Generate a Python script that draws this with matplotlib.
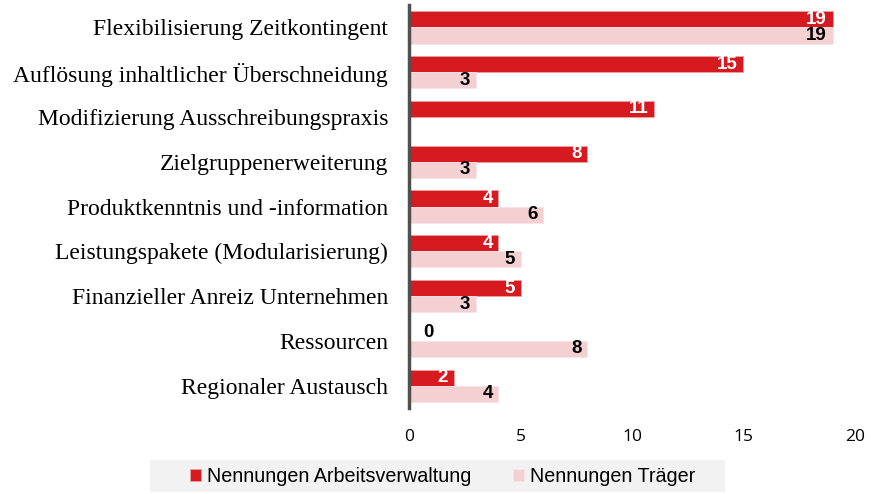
import matplotlib
matplotlib.use("Agg")
import matplotlib.pyplot as plt
from matplotlib.patches import Rectangle
import numpy as np

categories = [
    "Flexibilisierung Zeitkontingent",
    "Auflösung inhaltlicher Überschneidung",
    "Modifizierung Ausschreibungspraxis",
    "Zielgruppenerweiterung",
    "Produktkenntnis und -information",
    "Leistungspakete (Modularisierung)",
    "Finanzieller Anreiz Unternehmen",
    "Ressourcen",
    "Regionaler Austausch",
]
arbeitsverwaltung = [19, 15, 11, 8, 4, 4, 5, 0, 2]
traeger = [19, 3, None, 3, 6, 5, 3, 8, 4]
series_names = ["Nennungen Arbeitsverwaltung", "Nennungen Träger"]
xticks = [0, 5, 10, 15, 20]

c_av = "#d71920"
c_tr = "#f4d0d3"

fig = plt.figure(figsize=(8.71, 4.94), dpi=100)
ax = fig.add_axes([0.4696, 0.174, 0.5120, 0.8159])

y = np.arange(len(categories))
h = 0.36
av = np.array(arbeitsverwaltung, dtype=float)
tr = np.array([np.nan if v is None else v for v in traeger], dtype=float)

b1 = ax.barh(y - h / 2, av, height=h, color=c_av, edgecolor="#e8a0a4", linewidth=0.6,
             label=series_names[0])
b2 = ax.barh(y + h / 2, np.nan_to_num(tr), height=h, color=c_tr, edgecolor="#f8e4e6",
             linewidth=0.6, label=series_names[1])

lab_font = dict(family=["Liberation Sans", "DejaVu Sans"], fontsize=13.5, fontweight="bold")
for yi, v in zip(y, av):
    if v == 0:
        ax.annotate(f"{int(v)}", (v, yi - h / 2), xytext=(10, 0), textcoords="offset points",
                    ha="left", va="center", color="black", **lab_font)
    else:
        ax.annotate(f"{int(v)}", (v, yi - h / 2), xytext=(-4, 0), textcoords="offset points",
                    ha="right", va="center", color="white", **lab_font)
for yi, v in zip(y, tr):
    if np.isnan(v):
        continue
    ax.annotate(f"{int(v)}", (v, yi + h / 2), xytext=(-4, 0), textcoords="offset points",
                ha="right", va="center", color="black", **lab_font)

ax.set_xlim(0, 20)
ax.set_ylim(len(categories) - 0.5, -0.5)
ax.set_xticks(xticks)
ax.set_xticklabels([str(t) for t in xticks], family=["Open Sans", "DejaVu Sans"], fontsize=12.5)
ax.set_yticks(y)
ax.set_yticklabels(categories, family=["Liberation Serif", "DejaVu Serif"], fontsize=17)
ax.tick_params(axis="both", length=0)
ax.tick_params(axis="x", pad=15)
ax.tick_params(axis="y", pad=15)
for s in ["top", "right", "bottom"]:
    ax.spines[s].set_visible(False)
ax.spines["left"].set_color("#505050")
ax.spines["left"].set_linewidth(2.5)

fig.patches.append(Rectangle((150 / 871, 2 / 494), 575 / 871, 32 / 494,
                             transform=fig.transFigure, facecolor="#f2f2f2",
                             edgecolor="none", zorder=0))
leg = fig.legend(handles=[b1, b2], labels=series_names, loc="center",
                 bbox_to_anchor=(0.508, 0.036), ncol=2, frameon=False,
                 prop={"family": ["Liberation Sans Narrow", "Liberation Sans", "DejaVu Sans"], "size": 14.2},
                 handlelength=0.55, handleheight=0.55, handletextpad=0.3, columnspacing=2.1,
                 borderpad=0.35)

fig.savefig("out.png", dpi=100)
